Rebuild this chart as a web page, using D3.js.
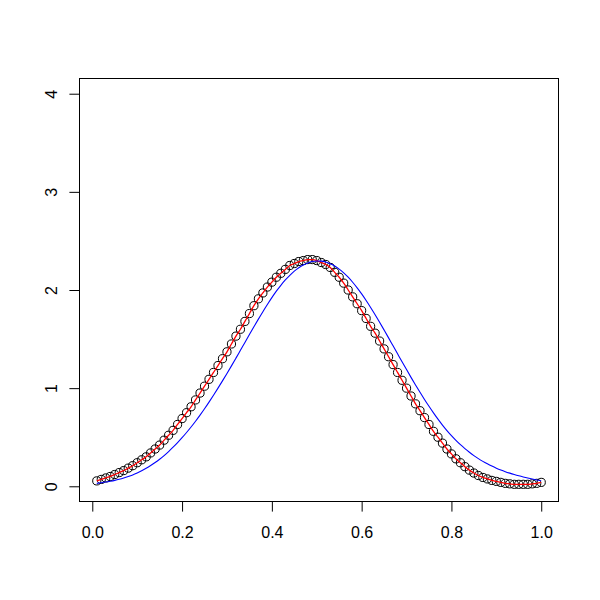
<!DOCTYPE html>
<html>
<head>
<meta charset="utf-8">
<script src="https://cdn.jsdelivr.net/npm/d3@7"></script>
<style>
  body { margin: 0; background: #fff; }
  svg { display: block; }
  .axis text { font-family: "Liberation Sans", Arial, Helvetica, sans-serif; font-size: 16px; fill: #000; }
</style>
</head>
<body>
<svg width="600" height="600"></svg>
<script>
// x positions of the points (0.01 .. 1.00)
var xValues = [
  0.01, 0.02, 0.03, 0.04, 0.05, 0.06, 0.07, 0.08, 0.09, 0.10,
  0.11, 0.12, 0.13, 0.14, 0.15, 0.16, 0.17, 0.18, 0.19, 0.20,
  0.21, 0.22, 0.23, 0.24, 0.25, 0.26, 0.27, 0.28, 0.29, 0.30,
  0.31, 0.32, 0.33, 0.34, 0.35, 0.36, 0.37, 0.38, 0.39, 0.40,
  0.41, 0.42, 0.43, 0.44, 0.45, 0.46, 0.47, 0.48, 0.49, 0.50,
  0.51, 0.52, 0.53, 0.54, 0.55, 0.56, 0.57, 0.58, 0.59, 0.60,
  0.61, 0.62, 0.63, 0.64, 0.65, 0.66, 0.67, 0.68, 0.69, 0.70,
  0.71, 0.72, 0.73, 0.74, 0.75, 0.76, 0.77, 0.78, 0.79, 0.80,
  0.81, 0.82, 0.83, 0.84, 0.85, 0.86, 0.87, 0.88, 0.89, 0.90,
  0.91, 0.92, 0.93, 0.94, 0.95, 0.96, 0.97, 0.98, 0.99, 1.00
];

// open circles (the red line runs through the same values)
var pointValues = [
  0.055, 0.07, 0.085, 0.10, 0.12, 0.14, 0.16, 0.185, 0.21, 0.24,
  0.27, 0.30, 0.34, 0.38, 0.42, 0.47, 0.52, 0.57, 0.63, 0.69,
  0.75, 0.81, 0.88, 0.95, 1.02, 1.09, 1.16, 1.23, 1.30, 1.37,
  1.45, 1.53, 1.60, 1.68, 1.76, 1.84, 1.91, 1.97, 2.03, 2.08,
  2.13, 2.17, 2.21, 2.25, 2.27, 2.29, 2.30, 2.31, 2.31, 2.30,
  2.28, 2.26, 2.23, 2.18, 2.13, 2.07, 2.00, 1.93, 1.86, 1.79,
  1.71, 1.63, 1.56, 1.48, 1.40, 1.32, 1.24, 1.16, 1.08, 1.00,
  0.92, 0.84, 0.77, 0.70, 0.63, 0.56, 0.50, 0.44, 0.38, 0.33,
  0.28, 0.24, 0.20, 0.165, 0.135, 0.11, 0.09, 0.075, 0.06, 0.05,
  0.04, 0.03, 0.025, 0.02, 0.02, 0.02, 0.02, 0.025, 0.03, 0.04
];

// blue reference curve
var blueValues = [
  0.030, 0.036, 0.043, 0.051, 0.060, 0.071, 0.084, 0.099, 0.116, 0.136,
  0.158, 0.183, 0.211, 0.242, 0.276, 0.313, 0.354, 0.398, 0.445, 0.495,
  0.548, 0.604, 0.663, 0.725, 0.790, 0.858, 0.928, 1.000, 1.074, 1.150,
  1.227, 1.306, 1.386, 1.466, 1.546, 1.625, 1.703, 1.779, 1.852, 1.922,
  1.988, 2.048, 2.102, 2.150, 2.192, 2.227, 2.255, 2.276, 2.290, 2.296,
  2.294, 2.285, 2.268, 2.244, 2.213, 2.175, 2.130, 2.079, 2.022, 1.960,
  1.893, 1.822, 1.748, 1.671, 1.592, 1.512, 1.431, 1.350, 1.269, 1.189,
  1.110, 1.033, 0.958, 0.885, 0.815, 0.748, 0.684, 0.624, 0.568, 0.516,
  0.468, 0.424, 0.384, 0.347, 0.313, 0.282, 0.254, 0.229, 0.206, 0.185,
  0.166, 0.149, 0.134, 0.120, 0.107, 0.095, 0.084, 0.074, 0.065, 0.057
];

var xTicks = [0.0, 0.2, 0.4, 0.6, 0.8, 1.0];
var yTicks = [0, 1, 2, 3, 4];

var svg = d3.select('svg');

// plot region (R style box)
var box = {l: 79, r: 559, t: 78, b: 502};

// R pads the data range by 4% on each side
var xPad = (xValues[xValues.length - 1] - xValues[0]) * 0.04;
var xScale = d3.scaleLinear()
    .domain([xValues[0] - xPad, xValues[xValues.length - 1] + xPad])
    .range([box.l, box.r]);
var yScale = d3.scaleLinear()
    .domain([0 - 0.16, 4 + 0.16])
    .range([box.b, box.t]);

var points = xValues.map(function(x, i) {
    return {x: x, y: pointValues[i], blue: blueValues[i]};
});

// circles
svg.append('g').selectAll('circle')
    .data(points)
    .enter()
    .append('circle')
    .attr('cx', function(d) { return xScale(d.x); })
    .attr('cy', function(d) { return yScale(d.y); })
    .attr('r', 4.1)
    .attr('fill', 'none')
    .attr('stroke', '#000')
    .attr('stroke-width', 1);

// red line
var redLine = d3.line()
    .x(function(d) { return xScale(d.x); })
    .y(function(d) { return yScale(d.y); })
    .curve(d3.curveMonotoneX);
svg.append('path')
    .datum(points)
    .attr('d', redLine)
    .attr('fill', 'none')
    .attr('stroke', '#ff0000')
    .attr('stroke-width', 1.3);

// blue line
var blueLine = d3.line()
    .x(function(d) { return xScale(d.x); })
    .y(function(d) { return yScale(d.blue); })
    .curve(d3.curveMonotoneX);
svg.append('path')
    .datum(points)
    .attr('d', blueLine)
    .attr('fill', 'none')
    .attr('stroke', '#0000ff')
    .attr('stroke-width', 1.1);

// axes
var xAxisG = svg.append('g')
    .attr('class', 'axis')
    .attr('transform', 'translate(0,' + box.b + ')')
    .call(d3.axisBottom(xScale).tickValues(xTicks).tickFormat(d3.format('.1f'))
        .tickSize(9.6).tickPadding(14.7));
xAxisG.select('.domain').remove();
xAxisG.selectAll('line').attr('stroke', '#000');

var yAxisG = svg.append('g')
    .attr('class', 'axis')
    .attr('transform', 'translate(' + box.l + ',0)')
    .call(d3.axisLeft(yScale).tickValues(yTicks).tickFormat(d3.format('d')).tickSize(9.6));
yAxisG.select('.domain').remove();
yAxisG.selectAll('line').attr('stroke', '#000');
yAxisG.selectAll('text')
    .attr('x', null)
    .attr('y', null)
    .attr('dy', '0.35em')
    .attr('text-anchor', 'middle')
    .attr('transform', 'translate(-27.5,0) rotate(-90)');

svg.selectAll('.axis text').attr('fill', '#000');

// box round the plot region
svg.append('rect')
    .attr('x', box.l + 0.5)
    .attr('y', box.t + 0.5)
    .attr('width', box.r - box.l - 1)
    .attr('height', box.b - box.t - 1)
    .attr('fill', 'none')
    .attr('stroke', '#000')
    .attr('stroke-width', 1);
</script>
</body>
</html>
